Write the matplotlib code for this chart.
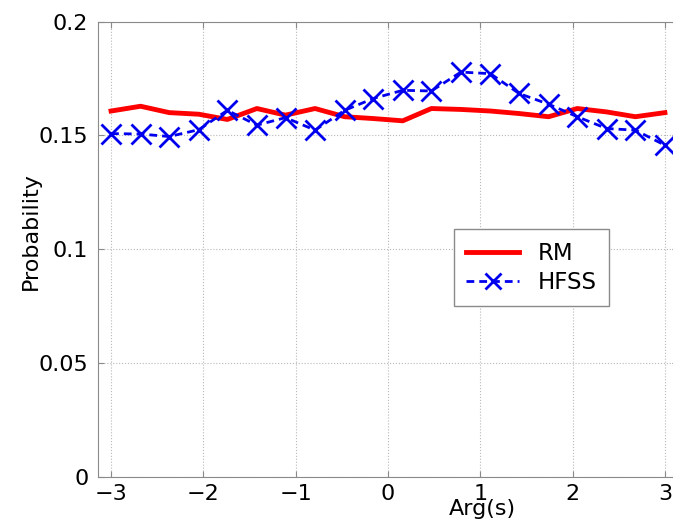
import numpy as np
import matplotlib
matplotlib.use("Agg")
import matplotlib.pyplot as plt

plt.rcParams['font.family'] = ['DejaVu Sans']

# phase of s, sampled at 20 points
arg_s = [-3.0, -2.68, -2.37, -2.05, -1.74, -1.42, -1.11, -0.79, -0.47, -0.16,
         0.16, 0.47, 0.79, 1.11, 1.42, 1.74, 2.05, 2.37, 2.68, 3.0]

prob_rm = [0.1607, 0.1628, 0.1600, 0.1593, 0.1570, 0.1618, 0.1589, 0.1618, 0.1582, 0.1574,
           0.1564, 0.1618, 0.1614, 0.1607, 0.1596, 0.1582, 0.1618, 0.1603, 0.1582, 0.1600]

prob_hfss = [0.1508, 0.1506, 0.1495, 0.1525, 0.1610, 0.1545, 0.1578, 0.1523, 0.1610, 0.1662,
             0.1698, 0.1695, 0.1778, 0.1771, 0.1684, 0.1637, 0.1582, 0.1530, 0.1523, 0.1457]

xticks = [-3, -2, -1, 0, 1, 2, 3]
yticks = [0, 0.05, 0.1, 0.15, 0.2]
ytick_labels = ["0", "0.05", "0.1", "0.15", "0.2"]

fig = plt.figure(figsize=(6.73, 5.25), dpi=100)
ax = fig.add_axes([0.1456, 0.0914, 0.8618, 0.8676])

ax.plot(arg_s, prob_rm, color="#ff0000", lw=3.5, label="RM")
ax.plot(arg_s, prob_hfss, color="#0000ee", lw=2, linestyle=(0, (2.8, 1.8)),
        marker="x", markersize=14, markeredgewidth=2, label="HFSS")

ax.set_xlim(-np.pi, np.pi)
ax.set_ylim(0, 0.2)
ax.set_xticks(xticks)
ax.set_yticks(yticks)
ax.set_yticklabels(ytick_labels)

ax.grid(True, linestyle=":", color="#b8b8b8", lw=0.8)
for s in ax.spines.values():
    s.set_color("#8a8a8a")
ax.tick_params(direction="in", length=4, color="#8a8a8a", labelsize=16,
               top=True, right=True)
ax.tick_params(axis="y", pad=7)
ax.tick_params(axis="x", pad=5)

ax.set_xlabel("Arg(s)", fontsize=16)
ax.xaxis.set_label_coords(0.662, -0.048)
ax.set_ylabel("Probability", fontsize=16)
ax.yaxis.set_label_coords(-0.098, 0.54)

leg = ax.legend(loc="upper right", bbox_to_anchor=(0.881, 0.544), borderaxespad=0,
                fontsize=16.5, fancybox=False, framealpha=1, edgecolor="#8a8a8a",
                handlelength=2.3, handletextpad=0.8, labelspacing=0.25, borderpad=0.55)
leg.get_frame().set_linewidth(1.0)
leg.legend_handles[1].set_markersize(11)

fig.savefig("out.png", dpi=100)
